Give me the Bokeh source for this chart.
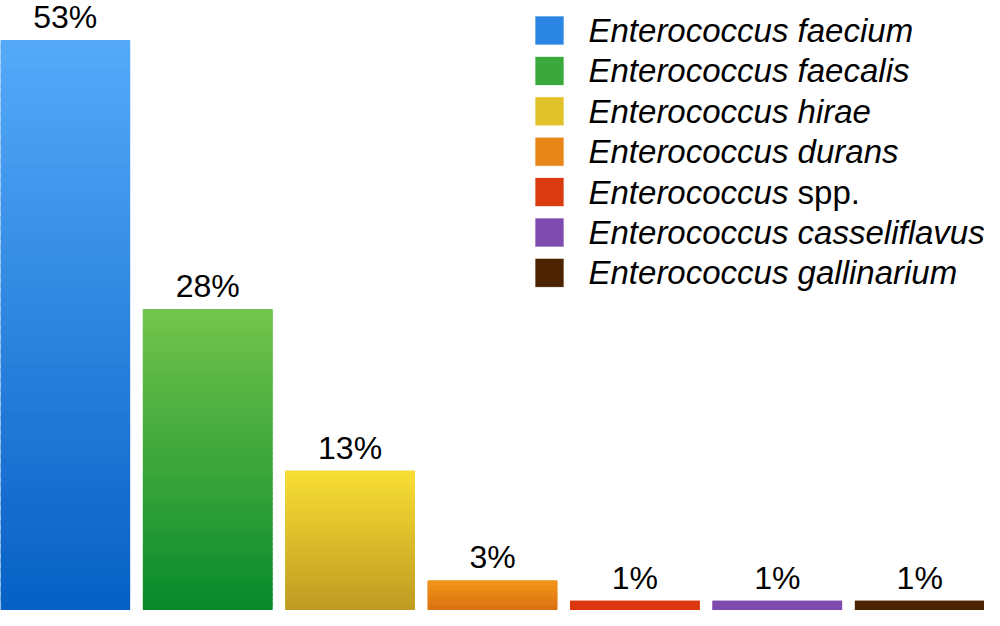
from bokeh.plotting import figure
from bokeh.models import ColumnDataSource, Range1d
from bokeh.core.properties import value
from bokeh.embed import file_html
from bokeh.resources import INLINE

species = ["faecium", "faecalis", "hirae", "durans", "spp.", "casseliflavus", "gallinarium"]
genus = "Enterococcus"
percent = [53, 28, 13, 2.8, 0.9, 0.9, 0.9]
labels = ["53%", "28%", "13%", "3%", "1%", "1%", "1%"]
top_colors = ["#55aaf9", "#74c44c", "#f8df33", "#f09618", "#ee4616", "#8a56b6", "#4c2402"]
bottom_colors = ["#0660c4", "#078a2c", "#bf9a22", "#dc6f12", "#c82a08", "#7042a2", "#4a2200"]
legend_colors = ["#2b86e3", "#3aa83c", "#e2c22a", "#e8861a", "#dc3a10", "#7e4caf", "#4b2301"]
italic_species = [True, True, True, True, False, True, True]

W, H = 984, 610
BAR_W = 0.91
x_start, x_end = -BAR_W / 2, len(species) - 1 + BAR_W / 2
y_end = 56.7
px_x = W / (x_end - x_start)
px_y = H / y_end


def hex2rgb(h):
    return tuple(int(h[i:i + 2], 16) for i in (1, 3, 5))


def mix(c1, c2, t):
    a, b = hex2rgb(c1), hex2rgb(c2)
    return "#%02x%02x%02x" % tuple(round(a[k] + (b[k] - a[k]) * t) for k in range(3))


# gradient bars: each bar split into slightly overlapping horizontal bands (styling only)
gx, gb, gt, gc = [], [], [], []
for i, v in enumerate(percent):
    n_seg = max(1, min(60, int(v * px_y / 5)))
    for s in range(n_seg):
        gx.append(i)
        gb.append(v * s / n_seg)
        gt.append(min(v, v * (s + 1.5) / n_seg))
        gc.append(mix(bottom_colors[i], top_colors[i], (s + 0.5) / n_seg))
gsrc = ColumnDataSource(dict(x=gx, bottom=gb, top=gt, color=gc))

xs = list(range(len(species)))
mid_colors = [mix(bottom_colors[i], top_colors[i], 0.5) for i in range(len(species))]
src = ColumnDataSource(dict(x=xs, top=percent, label=labels, color=mid_colors))

p = figure(width=W, height=H, output_backend="svg", toolbar_location=None,
           x_range=Range1d(x_start, x_end), y_range=Range1d(0, y_end),
           min_border=0, min_border_left=0, min_border_right=0,
           min_border_top=0, min_border_bottom=0)
p.axis.visible = False
p.grid.visible = False
p.outline_line_color = None
p.background_fill_color = "white"

p.vbar(x="x", top="top", bottom=0, width=BAR_W, fill_color="color",
       line_color=None, source=src)
p.vbar(x="x", top="top", bottom="bottom", width=BAR_W, fill_color="color",
       line_color=None, source=gsrc)
p.text(x="x", y="top", text="label", source=src, text_align="center",
       text_baseline="bottom", y_offset=-5, text_font=value("Liberation Sans"),
       text_font_size="32px", text_color="black")

# legend drawn manually
leg_x = x_start + 549 / px_x
leg_top = (H - 30) / px_y
step = 40.4 / px_y
txt_dx = (588 - 549) / px_x
ly = [leg_top - i * step for i in range(len(species))]
lsrc = ColumnDataSource(dict(x=[leg_x] * len(species), y=ly, color=legend_colors,
                             tx=[leg_x + txt_dx] * len(species),
                             genus=[genus] * len(species)))
p.scatter(x="x", y="y", marker="square", size=28, fill_color="color",
          line_color="color", line_alpha=0.3, source=lsrc)
p.text(x="tx", y="y", text="genus", source=lsrc, text_baseline="middle",
       text_font=value("Liberation Sans"), text_font_style="italic",
       text_font_size="33px", text_color="black")

it_idx = [i for i in range(len(species)) if italic_species[i]]
no_idx = [i for i in range(len(species)) if not italic_species[i]]
off = 6.336 * 33
p.text(x=[leg_x + txt_dx] * len(it_idx), y=[ly[i] for i in it_idx],
       text=[species[i] for i in it_idx], x_offset=off, text_baseline="middle",
       text_font=value("Liberation Sans"), text_font_style="italic",
       text_font_size="33px", text_color="black")
p.text(x=[leg_x + txt_dx] * len(no_idx), y=[ly[i] for i in no_idx],
       text=[species[i] for i in no_idx], x_offset=off, text_baseline="middle",
       text_font=value("Liberation Sans"), text_font_style="normal",
       text_font_size="33px", text_color="black")

open("out.html", "w").write(file_html(p, INLINE))
